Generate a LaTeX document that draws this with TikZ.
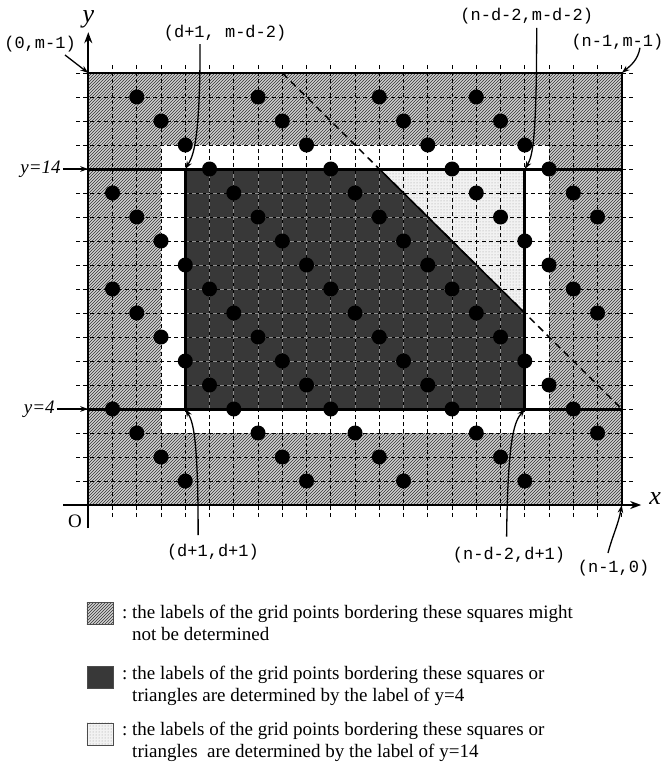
\documentclass[tikz,border=0pt]{standalone}
\usepackage{fontspec}
\setmainfont{Liberation Serif}
\setmonofont{Liberation Mono}
\usetikzlibrary{patterns,arrows.meta}
\begin{document}
\begin{tikzpicture}[x=24.25pt,y=24pt,
  gridline/.style={dash pattern=on 4pt off 3pt, line width=0.7pt},
  thickline/.style={line width=3pt},
  frameline/.style={line width=1.8pt},
  axisline/.style={line width=2.4pt, -{Stealth[length=11pt,width=8pt]}},
  dotpt/.style={circle, fill=black, inner sep=0pt, minimum size=15pt},
  tipline/.style={-{Stealth[length=8pt,width=5.5pt]}, line width=1.3pt},
  cornerlab/.style={font=\fontsize{17}{17}\selectfont\ttfamily, inner sep=1pt},
  ylab/.style={font=\fontsize{19}{19}\selectfont\itshape, inner sep=2pt, anchor=east},
  legtext/.style={font=\fontsize{19}{21.6}\selectfont, align=left, anchor=west, inner sep=0pt},
  swatch/.style={minimum width=26pt, minimum height=22pt, inner sep=0pt, draw=black!70, line width=0.5pt},
  hatchsw/.style={preaction={fill=black!18}, pattern=north east lines, pattern color=black!80},
  darksw/.style={fill=black!78},
  lightsw/.style={preaction={fill=black!5}, pattern=dots, pattern color=black!40},
]
\useasboundingbox (-3.641,-10.958) rectangle (23.658,21.042);

% corners
\coordinate (c00) at (0,0);
\coordinate (c0m) at (0,18);
\coordinate (cn0) at (22,0);
\coordinate (cnm) at (22,18);
\coordinate (iLL) at (4,4);
\coordinate (iUL) at (4,14);
\coordinate (iUR) at (18,14);
\coordinate (iLR) at (18,4);

% hatched region
\fill[black!18, even odd rule] (0,0) rectangle (22,18) (3,3) rectangle (19,15);
\path[pattern=north east lines, pattern color=black!80, even odd rule] (0,0) rectangle (22,18) (3,3) rectangle (19,15);
% dark region
\fill[black!78] (4,4) -- (18,4) -- (18,8) -- (12,14) -- (4,14) -- cycle;
% light triangle
\fill[black!5] (12,14) -- (18,14) -- (18,8) -- cycle;
\path[pattern=dots, pattern color=black!40] (12,14) -- (18,14) -- (18,8) -- cycle;

% grid
\foreach \x in {1,...,22} \draw[gridline] (\x,-0.5) -- (\x,18.4);
\foreach \y in {1,...,18} \draw[gridline] (-0.5,\y) -- (22.5,\y);
\begin{scope}
\clip (4,4) -- (18,4) -- (18,8) -- (12,14) -- (4,14) -- cycle;
\foreach \x in {5,...,17} \draw[gridline, black!45] (\x,4) -- (\x,14);
\foreach \y in {5,...,13} \draw[gridline, black!45] (4,\y) -- (18,\y);
\end{scope}

% diagonal
\draw[line width=1.5pt, dash pattern=on 7pt off 5pt] (8,18) -- (22,4);
\draw[line width=1.5pt] (12,14) -- (18,8);

% frame and thick lines
\draw[frameline] (c0m) -- (cnm) -- (cn0);
\draw[thickline] (0,14) -- (22,14);
\draw[thickline] (0,4) -- (22,4);
\draw[thickline] (iLL) -- (iUL);
\draw[thickline] (iLR) -- (iUR);

% axes
\draw[axisline] (-1.03,0) -- (22.8,0);
\draw[axisline] (0,-0.96) -- (0,19.7);
\node[font=\fontsize{26}{26}\selectfont\itshape, inner sep=0pt] (ylabel) at (0,20.25) {y};
\node[font=\fontsize{26}{26}\selectfont\itshape, inner sep=0pt] (xlabel) at (23.37,0.25) {x};
\node[font=\fontsize{19}{19}\selectfont, inner sep=0pt] (olabel) at (-0.55,-0.66) {O};

% dots
\foreach \yy/\xs in {17/{2,7,12,16}, 16/{3,8,13,17}, 15/{4,9,14,18}, 14/{5,10,15,19},
  13/{1,6,11,16,20}, 12/{2,7,12,17,21}, 11/{3,8,13,18}, 10/{4,9,14,19},
  9/{1,5,10,15,20}, 8/{2,6,11,16,21}, 7/{3,7,12,17}, 6/{4,8,13,18},
  5/{5,9,14,19}, 4/{1,6,10,15,20}, 3/{2,7,11,16,21}, 2/{3,8,12,17}, 1/{4,9,13,18}}
  {\foreach \xx in \xs \node[dotpt] (p\xx-\yy) at (\xx,\yy) {};}

% y-level labels
\coordinate (a14) at (0,14);
\coordinate (a4) at (0,4);
\node[ylab] (l14) at (-1.05,14) {y=14};
\node[ylab] (l4) at (-1.3,4) {y=4};
\draw[tipline] (l14.east) -- (a14);
\draw[tipline] (l4.east) -- (a4);

% corner labels
\node[cornerlab] (lA) at (-1.99,19.21) {(0,m-1)};
\node[cornerlab] (lB) at (5.64,19.67) {(d+1, m-d-2)};
\node[cornerlab] (lC) at (18.08,20.35) {(n-d-2,m-d-2)};
\node[cornerlab] (lD) at (21.82,19.3) {(n-1,m-1)};
\node[cornerlab] (lE) at (5.14,-1.95) {(d+1,d+1)};
\node[cornerlab] (lF) at (17.35,-2.08) {(n-d-2,d+1)};
\node[cornerlab] (lG) at (21.66,-2.63) {(n-1,0)};

\coordinate (sA) at (-0.96,18.75);
\coordinate (sB) at (4.61,19.2);
\coordinate (sC) at (18.49,19.88);
\coordinate (sD) at (22.75,19.05);
\coordinate (sE) at (4.53,-1.25);
\coordinate (sF) at (17.25,-1.32);
\coordinate (sG) at (21.43,-2.0);

\draw[tipline] (sA) -- (c0m);
\draw[tipline] (sB) .. controls (4.61,15.0) and (4.3,14.5) .. (iUL);
\draw[tipline] (sC) .. controls (18.49,15.0) and (18.3,14.5) .. (iUR);
\draw[tipline] (sD) to[out=-100,in=40] (cnm);
\draw[tipline] (sE) .. controls (4.53,3.0) and (4.3,3.5) .. (iLL);
\draw[tipline] (sF) .. controls (17.3,3.0) and (17.6,3.5) .. (iLR);
\draw[tipline] (sG) to[out=75,in=-100] (cn0);

% legend
\node[swatch, hatchsw] (sw1) at (0.48,-4.5) {};
\node[swatch, darksw] (sw2) at (0.48,-7.17) {};
\node[swatch, lightsw] (sw3) at (0.48,-9.54) {};
\node[legtext] (t1) at (1.39,-4.9) {:~the labels of the grid points bordering these squares might\\\hphantom{:~}not be determined};
\node[legtext] (t2) at (1.39,-7.53) {:~the labels of the grid points bordering these squares or\\\hphantom{:~}triangles are determined by the label of y=4};
\node[legtext] (t3) at (1.39,-9.86) {:~the labels of the grid points bordering these squares or\\\hphantom{:~}triangles\ \ are determined by the label of y=14};
\end{tikzpicture}
\end{document}
